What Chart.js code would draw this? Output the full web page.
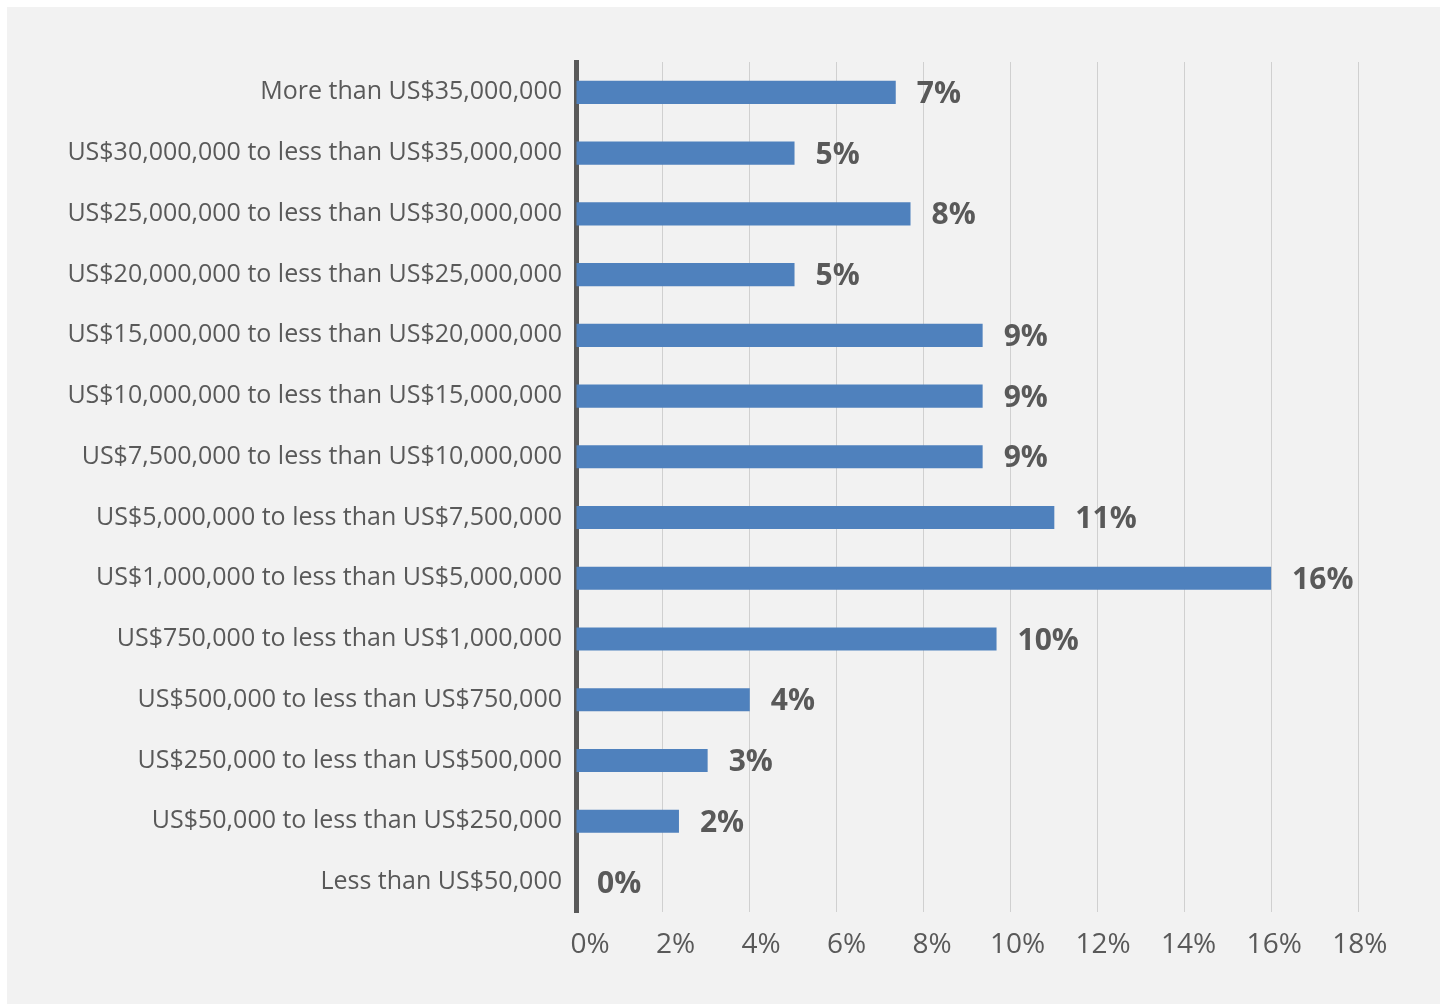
<!DOCTYPE html>
<html>
<head>
<meta charset="utf-8">
<script src="https://cdn.jsdelivr.net/npm/chart.js@4"></script>
<style>
  body { margin: 0; background: #ffffff; }
  #panel { position: absolute; left: 7px; top: 7px; width: 1433px; height: 997px; background: #f2f2f2; }
</style>
</head>
<body>
<div id="panel"><canvas id="sizeChart"></canvas></div>
<script>
// revenue bands, top to bottom
const bands = [
  'More than US$35,000,000',
  'US$30,000,000 to less than US$35,000,000',
  'US$25,000,000 to less than US$30,000,000',
  'US$20,000,000 to less than US$25,000,000',
  'US$15,000,000 to less than US$20,000,000',
  'US$10,000,000 to less than US$15,000,000',
  'US$7,500,000 to less than US$10,000,000',
  'US$5,000,000 to less than US$7,500,000',
  'US$1,000,000 to less than US$5,000,000',
  'US$750,000 to less than US$1,000,000',
  'US$500,000 to less than US$750,000',
  'US$250,000 to less than US$500,000',
  'US$50,000 to less than US$250,000',
  'Less than US$50,000'
];
// share of respondents (%)
const shares = [7.36, 5.03, 7.70, 5.03, 9.36, 9.36, 9.36, 11.01, 16.0, 9.68, 4.0, 3.03, 2.37, 0];
const xTicks = [0, 2, 4, 6, 8, 10, 12, 14, 16, 18];

const fontFamily = '"Open Sans", "Noto Sans", sans-serif';
const textGrey = '#595959';

// prints the rounded percentage just past the end of each bar
const valueLabels = {
  id: 'valueLabels',
  afterDatasetsDraw(chart) {
    const ctx = chart.ctx;
    const meta = chart.getDatasetMeta(0);
    ctx.save();
    ctx.font = 'bold 30px ' + fontFamily;
    ctx.fillStyle = textGrey;
    ctx.textBaseline = 'middle';
    ctx.textAlign = 'left';
    meta.data.forEach((bar, i) => {
      ctx.fillText(Math.round(shares[i]) + '%', bar.x + 21, bar.y + 2);
    });
    ctx.restore();
  }
};

new Chart(document.getElementById('sizeChart'), {
  type: 'bar',
  data: {
    labels: bands,
    datasets: [{
      data: shares,
      xAxisID: 'x',
      backgroundColor: '#4f81bd',
      categoryPercentage: 1,
      barPercentage: 0.38
    }]
  },
  options: {
    indexAxis: 'y',
    responsive: true,
    maintainAspectRatio: false,
    animation: false,
    layout: { padding: { top: 55, right: 82, bottom: 26, left: 0 } },
    plugins: { legend: { display: false }, tooltip: { enabled: false } },
    scales: {
      // value axis: gridlines only
      x: {
        min: 0,
        max: 18,
        afterBuildTicks(axis) { axis.ticks = xTicks.map(v => ({ value: v })); },
        grid: { color: '#d0d0d0', lineWidth: 1, drawTicks: false },
        border: { display: false },
        ticks: { display: false }
      },
      // tick text row, spread a little tighter than the gridlines
      xLabels: {
        position: 'bottom',
        min: -0.33,
        max: 17.96,
        afterBuildTicks(axis) { axis.ticks = xTicks.map(v => ({ value: v })); },
        grid: { display: false, drawTicks: false },
        border: { display: false },
        ticks: {
          padding: 16,
          color: textGrey,
          font: { family: fontFamily, size: 28 },
          callback: v => v + '%'
        }
      },
      y: {
        afterFit(axis) { axis.width = 569; },
        grid: { display: false, drawTicks: false },
        border: { display: true, color: '#595959', width: 5 },
        ticks: {
          padding: 14,
          color: textGrey,
          font: { family: fontFamily, size: 25 }
        }
      }
    }
  },
  plugins: [valueLabels]
});
</script>
</body>
</html>
